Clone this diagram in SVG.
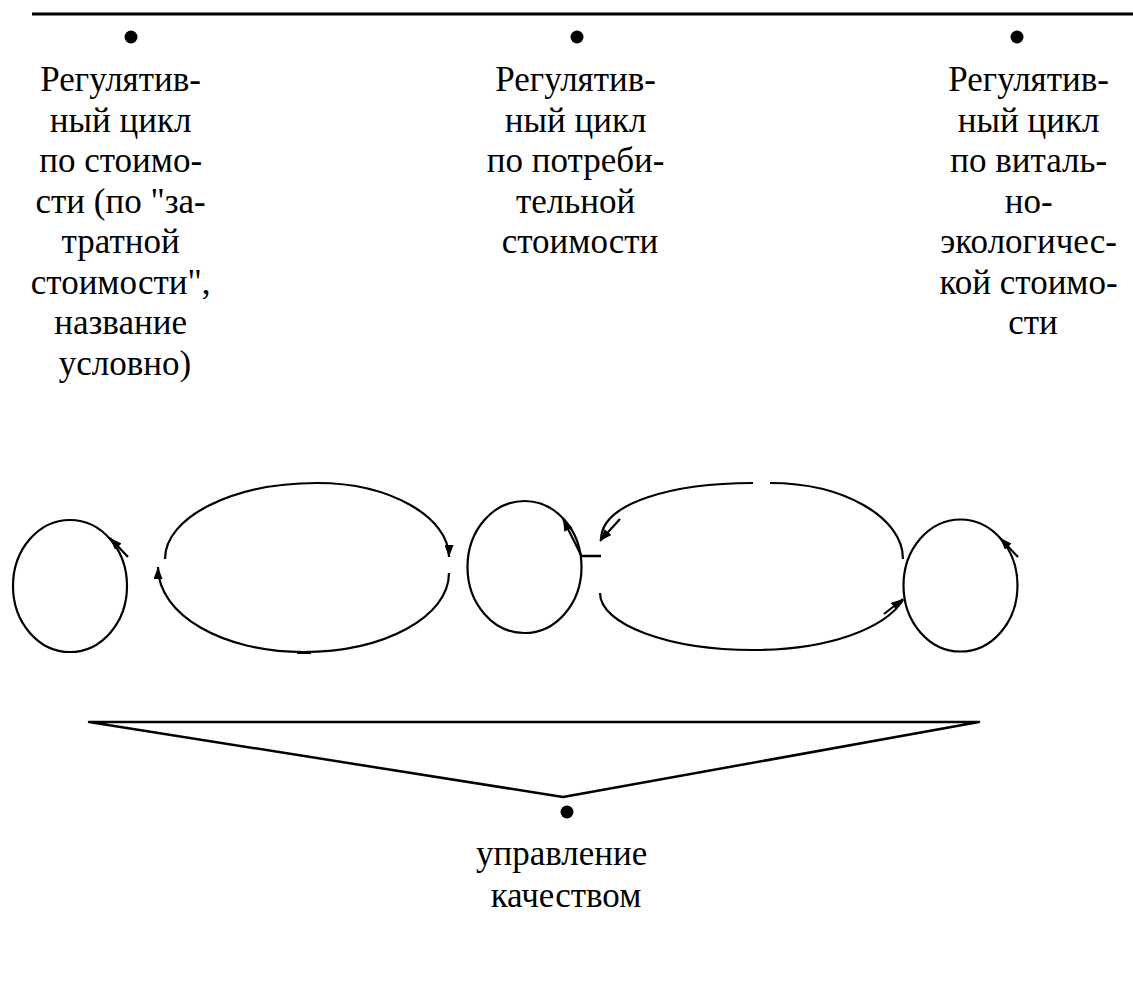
<svg xmlns="http://www.w3.org/2000/svg" width="1133" height="991" viewBox="0 0 1133 991">
<style>
  .t { font-family: "Liberation Serif", "Times New Roman", serif; font-size: 35px; fill: #000; text-anchor: middle; }
  .c { fill: none; stroke: #000; stroke-width: 2.2; }
  .a { fill: none; stroke: #000; stroke-width: 2.2; marker-end: url(#ah); }
  .dot { fill: #000; }
</style>
<defs>
  <marker id="ah" viewBox="0 0 12 9" markerWidth="12" markerHeight="9" refX="12" refY="4.5" orient="auto" markerUnits="userSpaceOnUse">
    <path d="M0,0 L12,4.5 L0,9 z" fill="#000"/>
  </marker>
</defs>
<rect width="1133" height="991" fill="#fff"/>

<line x1="32" y1="14" x2="1133" y2="14" stroke="#000" stroke-width="3"/>

<g id="label-cost">
  <circle class="dot" cx="131" cy="37" r="6.5"/>
  <text class="t">
    <tspan x="125" y="91">Регулятив-</tspan>
    <tspan x="125" y="131.5">ный цикл</tspan>
    <tspan x="125" y="172">по стоимо-</tspan>
    <tspan x="125" y="212.5">сти (по "за-</tspan>
    <tspan x="125" y="253">тратной</tspan>
    <tspan x="125" y="293.5">стоимости",</tspan>
    <tspan x="125" y="334">название</tspan>
    <tspan x="125" y="374.5">условно)</tspan>
  </text>
</g>

<g id="label-use">
  <circle class="dot" cx="577" cy="37" r="6.5"/>
  <text class="t">
    <tspan x="580" y="91">Регулятив-</tspan>
    <tspan x="580" y="131.5">ный цикл</tspan>
    <tspan x="580" y="172">по потреби-</tspan>
    <tspan x="580" y="212.5">тельной</tspan>
    <tspan x="580" y="253">стоимости</tspan>
  </text>
</g>

<g id="label-vital">
  <circle class="dot" cx="1017" cy="37" r="6.5"/>
  <text class="t">
    <tspan x="1033" y="91">Регулятив-</tspan>
    <tspan x="1033" y="131.5">ный цикл</tspan>
    <tspan x="1033" y="172">по виталь-</tspan>
    <tspan x="1033" y="212.5">но-</tspan>
    <tspan x="1033" y="253">экологичес-</tspan>
    <tspan x="1033" y="293.5">кой стоимо-</tspan>
    <tspan x="1033" y="334">сти</tspan>
  </text>
</g>

<g id="circle-left">
  <ellipse class="c" cx="70" cy="586" rx="57" ry="66"/>
</g>
<g id="circle-middle">
  <ellipse class="c" cx="524.5" cy="567" rx="57" ry="66"/>
</g>
<g id="circle-right">
  <ellipse class="c" cx="960.5" cy="585.5" rx="57" ry="66"/>
</g>

<g id="connectors">
  <!-- left loop -->
  <path class="a" d="M165,559 C165,517 233,483 317,483 C390,483 449,517 449,557"/>
  <path class="a" d="M449,573 C449,617 384,652 303,652 C223,652 158,615 158,567"/>
  <line x1="297" y1="653" x2="311" y2="653" stroke="#000" stroke-width="2"/>
  <!-- right loop -->
  <path class="c" d="M903,559 C903,517 843,483 770,483"/>
  <path class="c" d="M753,483 C675,483 601,502 601,540"/>
  <line class="a" x1="620" y1="519" x2="600" y2="541"/>
  <path class="c" d="M600,593 C600,625 670,650 753,650 C830,650 885,628 903,600"/>
  <line class="a" x1="884" y1="614" x2="903" y2="599"/>
  <!-- circle arrows -->
  <line class="a" x1="128" y1="557" x2="110" y2="538"/>
  <line class="a" x1="581" y1="555" x2="563" y2="519"/>
  <line x1="581" y1="556" x2="601" y2="556" stroke="#000" stroke-width="2.5"/>
  <line class="a" x1="1018" y1="557" x2="1000" y2="538"/>
</g>

<g id="quality">
  <polygon points="89,722 979,722 563,797" fill="none" stroke="#000" stroke-width="2.5" stroke-linejoin="round"/>
  <circle class="dot" cx="567" cy="812" r="6.5"/>
  <text class="t">
    <tspan x="566" y="865">управление</tspan>
    <tspan x="566" y="907">качеством</tspan>
  </text>
</g>
</svg>
